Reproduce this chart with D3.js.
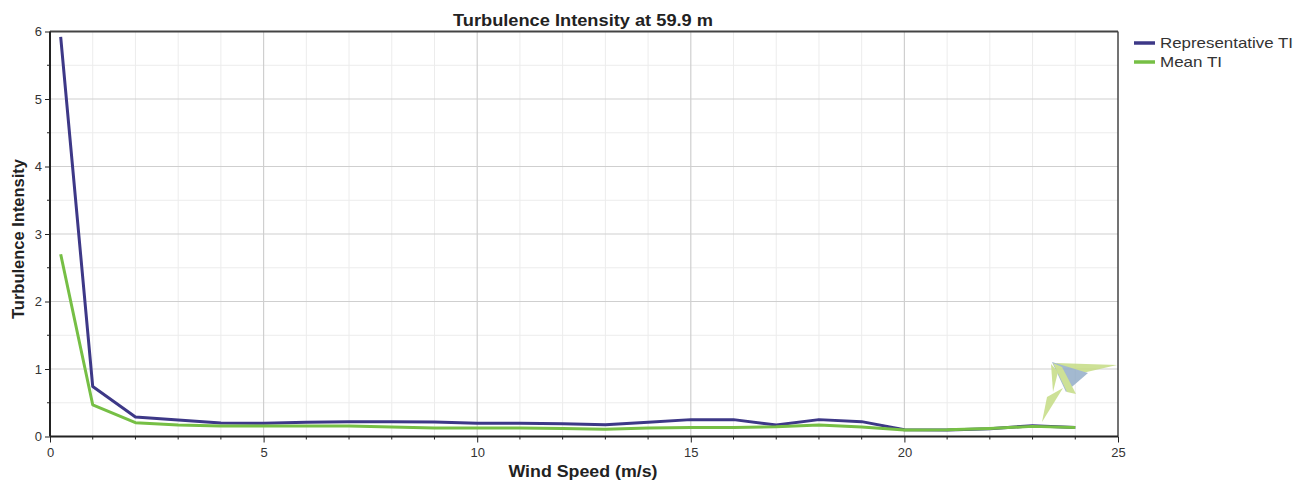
<!DOCTYPE html>
<html><head><meta charset="utf-8">
<script src="https://cdn.jsdelivr.net/npm/d3@7"></script>
<style>
body{margin:0;background:#fff;}
svg{display:block;font-family:"Liberation Sans",Arial,sans-serif;}
</style></head>
<body><svg id="chart" width="1296" height="481"></svg>
<script>
const windSpeed = [0.25,1,2,3,4,5,6,7,8,9,10,11,12,13,14,15,16,17,18,19,20,21,22,23,24];
const representativeTI = [5.92,0.74,0.29,0.245,0.2,0.195,0.21,0.22,0.22,0.215,0.195,0.195,0.19,0.175,0.21,0.25,0.25,0.17,0.25,0.22,0.1,0.095,0.115,0.16,0.135];
const meanTI = [2.70,0.47,0.205,0.17,0.155,0.155,0.155,0.155,0.14,0.127,0.127,0.127,0.12,0.107,0.125,0.135,0.135,0.145,0.17,0.14,0.096,0.1,0.12,0.15,0.135];
const xTicks = [0,5,10,15,20,25];
const yTicks = [0,1,2,3,4,5,6];
const seriesNames = ["Representative TI","Mean TI"];
const seriesColors = ["#3d3887","#76bf45"];

const svg = d3.select("#chart");
const L=50, R=1118, T=31.5, B=436.5;
const x = d3.scaleLinear().domain([0,25]).range([L,R]);
const y = d3.scaleLinear().domain([0,6]).range([B,T]);

// minor grid
const g = svg.append("g");
g.selectAll(".vminor").data(d3.range(1,25).filter(v=>v%5)).join("line")
  .attr("x1",d=>x(d)).attr("x2",d=>x(d)).attr("y1",T).attr("y2",B)
  .attr("stroke","#ececec").attr("stroke-width",1);
g.selectAll(".hminor").data(d3.range(0.5,6,1)).join("line")
  .attr("y1",d=>y(d)).attr("y2",d=>y(d)).attr("x1",L).attr("x2",R)
  .attr("stroke","#ececec").attr("stroke-width",1);
// major grid
g.selectAll(".vmajor").data(xTicks.slice(1,-1)).join("line")
  .attr("x1",d=>x(d)).attr("x2",d=>x(d)).attr("y1",T).attr("y2",B)
  .attr("stroke","#cfcfcf").attr("stroke-width",1.2);
g.selectAll(".hmajor").data(yTicks.slice(1,-1)).join("line")
  .attr("y1",d=>y(d)).attr("y2",d=>y(d)).attr("x1",L).attr("x2",R)
  .attr("stroke","#cfcfcf").attr("stroke-width",1.2);

// logo watermark
const logo = svg.append("g").attr("opacity",0.85);
logo.append("polygon").attr("points","1055,363 1117,365 1078,374").attr("fill","#c5dc84");
logo.append("polygon").attr("points","1052,362 1088,373 1066,392").attr("fill","#93adc8");
logo.append("polygon").attr("points","1053,363 1062,367 1076,394 1067,392").attr("fill","#c5dc84");
logo.append("polygon").attr("points","1051,364 1058,372 1053,392").attr("fill","#c5dc84");
logo.append("polygon").attr("points","1042,422 1047,397 1063,388").attr("fill","#c5dc84");

// frame top/right
svg.append("line").attr("x1",L).attr("x2",R).attr("y1",T).attr("y2",T).attr("stroke","#444").attr("stroke-width",2);
svg.append("line").attr("x1",R).attr("x2",R).attr("y1",T).attr("y2",B).attr("stroke","#444").attr("stroke-width",1.5);

// lines
const lineGen = d3.line().x(d=>x(d[0])).y(d=>y(d[1]));
[representativeTI, meanTI].forEach((vals,i)=>{
  svg.append("path").datum(windSpeed.map((w,j)=>[w,vals[j]]))
    .attr("d",lineGen).attr("fill","none").attr("stroke",seriesColors[i])
    .attr("stroke-width",3).attr("stroke-linejoin","round");
});

// axes
const xAxis = svg.append("g").attr("transform",`translate(0,${B})`)
  .call(d3.axisBottom(x).tickValues(xTicks).tickSize(6).tickPadding(5).tickFormat(d3.format("d")));
xAxis.append("g").selectAll("line").data(d3.range(1,25).filter(v=>v%5)).join("line")
  .attr("x1",d=>x(d)).attr("x2",d=>x(d)).attr("y1",0).attr("y2",3).attr("stroke","#222");
const yAxis = svg.append("g").attr("transform",`translate(${L},0)`)
  .call(d3.axisLeft(y).tickValues(yTicks).tickSize(5).tickPadding(3).tickFormat(d3.format("d")));
yAxis.append("g").selectAll("line").data(d3.range(0.5,6,1)).join("line")
  .attr("y1",d=>y(d)).attr("y2",d=>y(d)).attr("x1",0).attr("x2",-3).attr("stroke","#222");
[xAxis,yAxis].forEach(a=>{
  a.select(".domain").attr("stroke","#222").attr("stroke-width",2);
  a.selectAll(".tick line").attr("stroke","#222");
  a.selectAll(".tick text").attr("font-size",13).attr("fill","#333").attr("font-family","Liberation Sans, Arial");
});
xAxis.select(".domain").attr("d",`M${L},0H${R}`);
yAxis.select(".domain").attr("d",`M0,${T}V${B}`);

// titles
svg.append("text").attr("x",583).attr("y",26).attr("text-anchor","middle")
  .attr("font-size",17).attr("font-weight","bold").attr("fill","#222")
  .attr("textLength",260).attr("lengthAdjust","spacingAndGlyphs")
  .text("Turbulence Intensity at 59.9 m");
svg.append("text").attr("x",583).attr("y",477).attr("text-anchor","middle")
  .attr("font-size",16).attr("font-weight","bold").attr("fill","#222")
  .attr("textLength",149).attr("lengthAdjust","spacingAndGlyphs")
  .text("Wind Speed (m/s)");
svg.append("text").attr("transform","translate(24,239) rotate(-90)").attr("text-anchor","middle")
  .attr("font-size",16).attr("font-weight","bold").attr("fill","#222")
  .attr("textLength",160).attr("lengthAdjust","spacingAndGlyphs")
  .text("Turbulence Intensity");

// legend
const legendWidths = [133, 62];
const leg = svg.append("g");
seriesNames.forEach((n,i)=>{
  const yy = 43 + i*19;
  leg.append("line").attr("x1",1134).attr("x2",1155).attr("y1",yy).attr("y2",yy)
    .attr("stroke",seriesColors[i]).attr("stroke-width",3.5);
  leg.append("text").attr("x",1160).attr("y",yy+5).attr("font-size",15).attr("fill","#333")
    .attr("textLength",legendWidths[i]).attr("lengthAdjust","spacingAndGlyphs").text(n);
});
</script></body></html>
